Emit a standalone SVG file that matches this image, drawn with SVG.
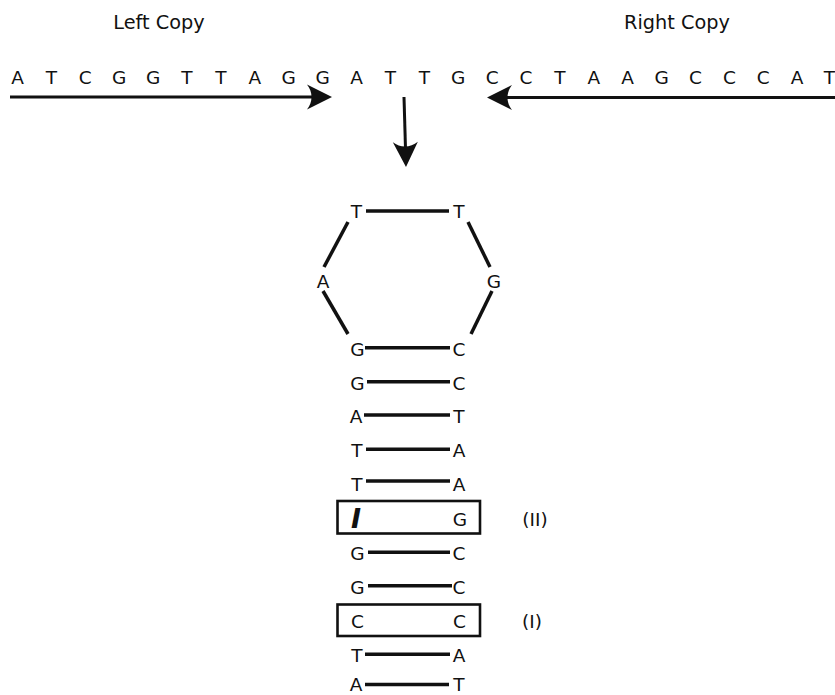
<svg xmlns="http://www.w3.org/2000/svg" xmlns:xlink="http://www.w3.org/1999/xlink" width="835" height="695" viewBox="0 0 835 695">
<style>
text{font-family:"DejaVu Sans","Liberation Sans",sans-serif;fill:#111;text-anchor:middle}
.lbl{font-size:19.3px}
.seq{font-size:18.5px}
.b{font-size:18.5px}
.ln{stroke:#111;stroke-width:3.5;fill:none;stroke-linecap:butt}
.box{stroke:#111;stroke-width:2.6;fill:none}
.ah{fill:#111}
</style>
<defs>
<path id="ah" d="M0,0 L-25,-12.5 C-19,-5 -19,5 -25,12.5 Z"/>
</defs>
<rect width="835" height="695" fill="#fff"/>
<g id="labels">
<text class="lbl" x="159" y="29">Left Copy</text>
<text class="lbl" x="677" y="29">Right Copy</text>
</g>
<g id="sequence" class="seq">
<text class="seq" x="17.5" y="84">A</text>
<text class="seq" x="51.4" y="84">T</text>
<text class="seq" x="85.3" y="84">C</text>
<text class="seq" x="119.2" y="84">G</text>
<text class="seq" x="153.1" y="84">G</text>
<text class="seq" x="187" y="84">T</text>
<text class="seq" x="220.9" y="84">T</text>
<text class="seq" x="254.8" y="84">A</text>
<text class="seq" x="288.7" y="84">G</text>
<text class="seq" x="322.6" y="84">G</text>
<text class="seq" x="356.5" y="84">A</text>
<text class="seq" x="390.4" y="84">T</text>
<text class="seq" x="424.3" y="84">T</text>
<text class="seq" x="458.2" y="84">G</text>
<text class="seq" x="492.1" y="84">C</text>
<text class="seq" x="526" y="84">C</text>
<text class="seq" x="559.9" y="84">T</text>
<text class="seq" x="593.8" y="84">A</text>
<text class="seq" x="627.7" y="84">A</text>
<text class="seq" x="661.6" y="84">G</text>
<text class="seq" x="695.5" y="84">C</text>
<text class="seq" x="729.4" y="84">C</text>
<text class="seq" x="763.3" y="84">C</text>
<text class="seq" x="797.2" y="84">A</text>
<text class="seq" x="829.5" y="84">T</text>
</g>
<g id="connectors">
<line class="ln" x1="10" y1="97" x2="318" y2="97" style="stroke-width:3"/>
<use href="#ah" xlink:href="#ah" class="ah" transform="translate(332,97)"/>
<line class="ln" x1="835" y1="97.5" x2="501" y2="97.5" style="stroke-width:3"/>
<use href="#ah" xlink:href="#ah" class="ah" transform="translate(487,97.5) rotate(180)"/>
<line class="ln" x1="404" y1="97" x2="405.6" y2="152" style="stroke-width:3"/>
<use href="#ah" xlink:href="#ah" class="ah" transform="translate(406,167) rotate(88.5)"/>
</g>
<g id="loop">
<line class="ln" x1="366" y1="211" x2="449" y2="211"/>
<line class="ln" x1="348" y1="222" x2="324" y2="267"/>
<line class="ln" x1="323" y1="291" x2="348" y2="334"/>
<line class="ln" x1="468" y1="222" x2="490" y2="267"/>
<line class="ln" x1="492" y1="291" x2="471" y2="334"/>
<line class="ln" x1="365" y1="347.7" x2="450" y2="347.7"/>
<text class="b" x="356.5" y="218">T</text>
<text class="b" x="459" y="218">T</text>
<text class="b" x="323" y="288">A</text>
<text class="b" x="494" y="288">G</text>
<text class="b" x="357.5" y="356">G</text>
<text class="b" x="459" y="356">C</text>
</g>
<g id="pair1">
<line class="ln" x1="367" y1="381.7" x2="450" y2="381.7"/>
<text class="b" x="357.5" y="390">G</text>
<text class="b" x="459" y="390">C</text>
</g>
<g id="pair2">
<line class="ln" x1="364" y1="415" x2="450" y2="415"/>
<text class="b" x="356" y="423">A</text>
<text class="b" x="459" y="423">T</text>
</g>
<g id="pair3">
<line class="ln" x1="366" y1="449.3" x2="450" y2="449.3"/>
<text class="b" x="357" y="457">T</text>
<text class="b" x="459" y="457">A</text>
</g>
<g id="pair4">
<line class="ln" x1="366" y1="481" x2="450" y2="481"/>
<text class="b" x="357" y="491">T</text>
<text class="b" x="459" y="491">A</text>
</g>
<g id="mismatch2">
<rect class="box" x="337.5" y="501" width="142.5" height="32.5"/>
<text x="356" y="528" style="font-size:27px;font-weight:600;font-style:italic">I</text>
<text class="b" x="460" y="526">G</text>
<text class="lbl" x="535" y="526" style="font-size:18.5px">(II)</text>
</g>
<g id="pair5">
<line class="ln" x1="368" y1="552.3" x2="450" y2="552.3"/>
<text class="b" x="357.5" y="560">G</text>
<text class="b" x="459" y="560">C</text>
</g>
<g id="pair6">
<line class="ln" x1="368" y1="585.7" x2="452" y2="585.7"/>
<text class="b" x="357.5" y="593.5">G</text>
<text class="b" x="459" y="593.5">C</text>
</g>
<g id="mismatch1">
<rect class="box" x="337.5" y="604.5" width="142.5" height="31.5"/>
<text class="b" x="357.5" y="628">C</text>
<text class="b" x="459.5" y="628">C</text>
<text class="lbl" x="532" y="628" style="font-size:18.5px">(I)</text>
</g>
<g id="pair7">
<line class="ln" x1="365" y1="654.3" x2="450" y2="654.3"/>
<text class="b" x="357" y="662">T</text>
<text class="b" x="459" y="662">A</text>
</g>
<g id="pair8">
<line class="ln" x1="365" y1="684.5" x2="449" y2="684.5"/>
<text class="b" x="356" y="690.5">A</text>
<text class="b" x="459" y="690.5">T</text>
</g>
</svg>
